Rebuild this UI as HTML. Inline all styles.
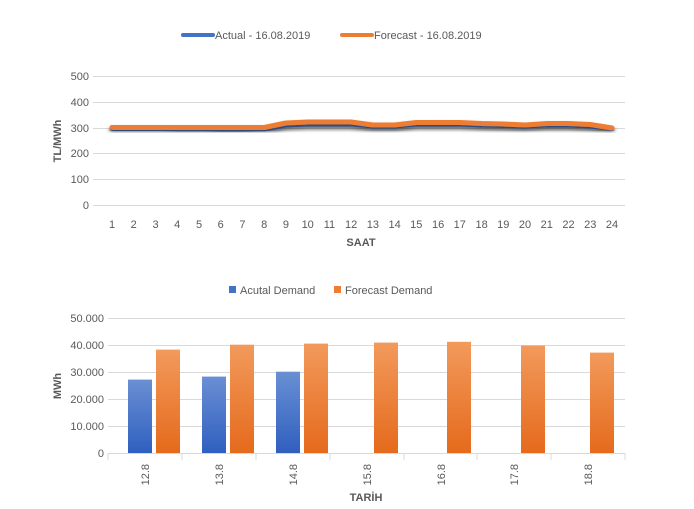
<!DOCTYPE html>
<html><head><meta charset="utf-8"><style>
body{margin:0;background:#fff}
svg{display:block;font-family:"Liberation Sans",sans-serif}
</style></head><body>
<svg width="694" height="509" viewBox="0 0 694 509">
<defs>
<filter id="sh" x="-5%" y="-50%" width="110%" height="200%"><feDropShadow dx="0" dy="3" stdDeviation="2" flood-color="#000" flood-opacity="0.45"/></filter>
<linearGradient id="gb" x1="0" y1="0" x2="0" y2="1"><stop offset="0" stop-color="#6a8fd4"/><stop offset="1" stop-color="#2f5fbf"/></linearGradient>
<linearGradient id="go" x1="0" y1="0" x2="0" y2="1"><stop offset="0" stop-color="#f29a5c"/><stop offset="1" stop-color="#e56a1c"/></linearGradient>
</defs>
<!-- top legend -->
<line x1="183" y1="35" x2="213" y2="35" stroke="#4472c4" stroke-width="4" stroke-linecap="round"/>
<text x="215" y="39" font-size="11" fill="#595959">Actual - 16.08.2019</text>
<line x1="342" y1="35" x2="372" y2="35" stroke="#ed7d31" stroke-width="4" stroke-linecap="round"/>
<text x="374" y="39" font-size="11" fill="#595959">Forecast - 16.08.2019</text>
<!-- top grid -->
<g stroke="#d9d9d9" stroke-width="1">
<line x1="93" y1="76.5" x2="625" y2="76.5"/><line x1="93" y1="102.5" x2="625" y2="102.5"/><line x1="93" y1="128.5" x2="625" y2="128.5"/><line x1="93" y1="153.5" x2="625" y2="153.5"/><line x1="93" y1="179.5" x2="625" y2="179.5"/><line x1="93" y1="205.5" x2="625" y2="205.5"/>
</g>
<g font-size="11" fill="#595959" text-anchor="end">
<text x="89" y="80">500</text><text x="89" y="106">400</text><text x="89" y="132">300</text><text x="89" y="157">200</text><text x="89" y="183">100</text><text x="89" y="209">0</text>
</g>
<g font-size="11" fill="#595959" text-anchor="middle">
<text x="112" y="228">1</text><text x="133.7" y="228">2</text><text x="155.5" y="228">3</text><text x="177.2" y="228">4</text><text x="199" y="228">5</text><text x="220.7" y="228">6</text><text x="242.4" y="228">7</text><text x="264.2" y="228">8</text><text x="285.9" y="228">9</text><text x="307.7" y="228">10</text><text x="329.4" y="228">11</text><text x="351.1" y="228">12</text><text x="372.9" y="228">13</text><text x="394.6" y="228">14</text><text x="416.3" y="228">15</text><text x="438.1" y="228">16</text><text x="459.8" y="228">17</text><text x="481.6" y="228">18</text><text x="503.3" y="228">19</text><text x="525" y="228">20</text><text x="546.8" y="228">21</text><text x="568.5" y="228">22</text><text x="590.3" y="228">23</text><text x="612" y="228">24</text>
</g>
<text x="361" y="246" font-size="11" font-weight="bold" fill="#595959" text-anchor="middle">SAAT</text>
<text transform="translate(61,141) rotate(-90)" font-size="11" font-weight="bold" fill="#595959" text-anchor="middle">TL/MWh</text>
<polyline filter="url(#sh)" fill="none" stroke="#4472c4" stroke-width="5" stroke-linejoin="round" stroke-linecap="round" points="112,128.5 133.7,128.5 155.5,128.5 177.2,129 199,129 220.7,129.5 242.4,129.5 264.2,129 285.9,125 307.7,124 329.4,124 351.1,124 372.9,126 394.6,126 416.3,124 438.1,124 459.8,124 481.6,125 503.3,125.5 525,126 546.8,125 568.5,125 590.3,126 612,128.5"/>
<polyline filter="url(#sh)" fill="none" stroke="#ed7d31" stroke-width="5" stroke-linejoin="round" stroke-linecap="round" points="112,127.5 133.7,127.5 155.5,127.5 177.2,127.5 199,127.5 220.7,127.5 242.4,127.5 264.2,127.5 285.9,123 307.7,122 329.4,122 351.1,122 372.9,125 394.6,125 416.3,122.5 438.1,122.5 459.8,122.5 481.6,123.5 503.3,124 525,125 546.8,123.5 568.5,123.5 590.3,124.5 612,128"/>
<!-- bottom legend -->
<rect x="229" y="286" width="7" height="7" fill="#4472c4"/>
<text x="240" y="294" font-size="11" fill="#595959">Acutal Demand</text>
<rect x="334" y="286" width="7" height="7" fill="#ed7d31"/>
<text x="345" y="294" font-size="11" fill="#595959">Forecast Demand</text>
<g stroke="#d9d9d9" stroke-width="1">
<line x1="108" y1="318.5" x2="625" y2="318.5"/><line x1="108" y1="345.5" x2="625" y2="345.5"/><line x1="108" y1="372.5" x2="625" y2="372.5"/><line x1="108" y1="399.5" x2="625" y2="399.5"/><line x1="108" y1="426.5" x2="625" y2="426.5"/><line x1="108" y1="453.5" x2="625" y2="453.5"/>
<line x1="108" y1="453" x2="108" y2="460"/><line x1="182" y1="453" x2="182" y2="460"/><line x1="256" y1="453" x2="256" y2="460"/><line x1="330" y1="453" x2="330" y2="460"/><line x1="404" y1="453" x2="404" y2="460"/><line x1="477" y1="453" x2="477" y2="460"/><line x1="551" y1="453" x2="551" y2="460"/><line x1="625" y1="453" x2="625" y2="460"/>
</g>
<g font-size="11" fill="#595959" text-anchor="end">
<text x="104" y="322">50.000</text><text x="104" y="349">40.000</text><text x="104" y="376">30.000</text><text x="104" y="403">20.000</text><text x="104" y="430">10.000</text><text x="104" y="457">0</text>
</g>
<text transform="translate(61,386) rotate(-90)" font-size="11" font-weight="bold" fill="#595959" text-anchor="middle">MWh</text>
<g fill="url(#gb)">
<rect x="128" y="379.6" width="24" height="73.4"/>
<rect x="202" y="376.6" width="24" height="76.4"/>
<rect x="276" y="371.7" width="24" height="81.3"/>
</g>
<g fill="url(#go)">
<rect x="156" y="349.6" width="24" height="103.4"/>
<rect x="230" y="344.7" width="24" height="108.3"/>
<rect x="304" y="343.6" width="24" height="109.4"/>
<rect x="374" y="342.6" width="24" height="110.4"/>
<rect x="447" y="341.8" width="24" height="111.2"/>
<rect x="521" y="345.5" width="24" height="107.5"/>
<rect x="590" y="352.6" width="24" height="100.4"/>
</g>
<g font-size="11" fill="#595959" text-anchor="end">
<text transform="translate(149,464) rotate(-90)">12.8</text>
<text transform="translate(223,464) rotate(-90)">13.8</text>
<text transform="translate(297,464) rotate(-90)">14.8</text>
<text transform="translate(371,464) rotate(-90)">15.8</text>
<text transform="translate(445,464) rotate(-90)">16.8</text>
<text transform="translate(518,464) rotate(-90)">17.8</text>
<text transform="translate(592,464) rotate(-90)">18.8</text>
</g>
<text x="366" y="501" font-size="11" font-weight="bold" fill="#595959" text-anchor="middle">TARİH</text>
</svg>
</body></html>
